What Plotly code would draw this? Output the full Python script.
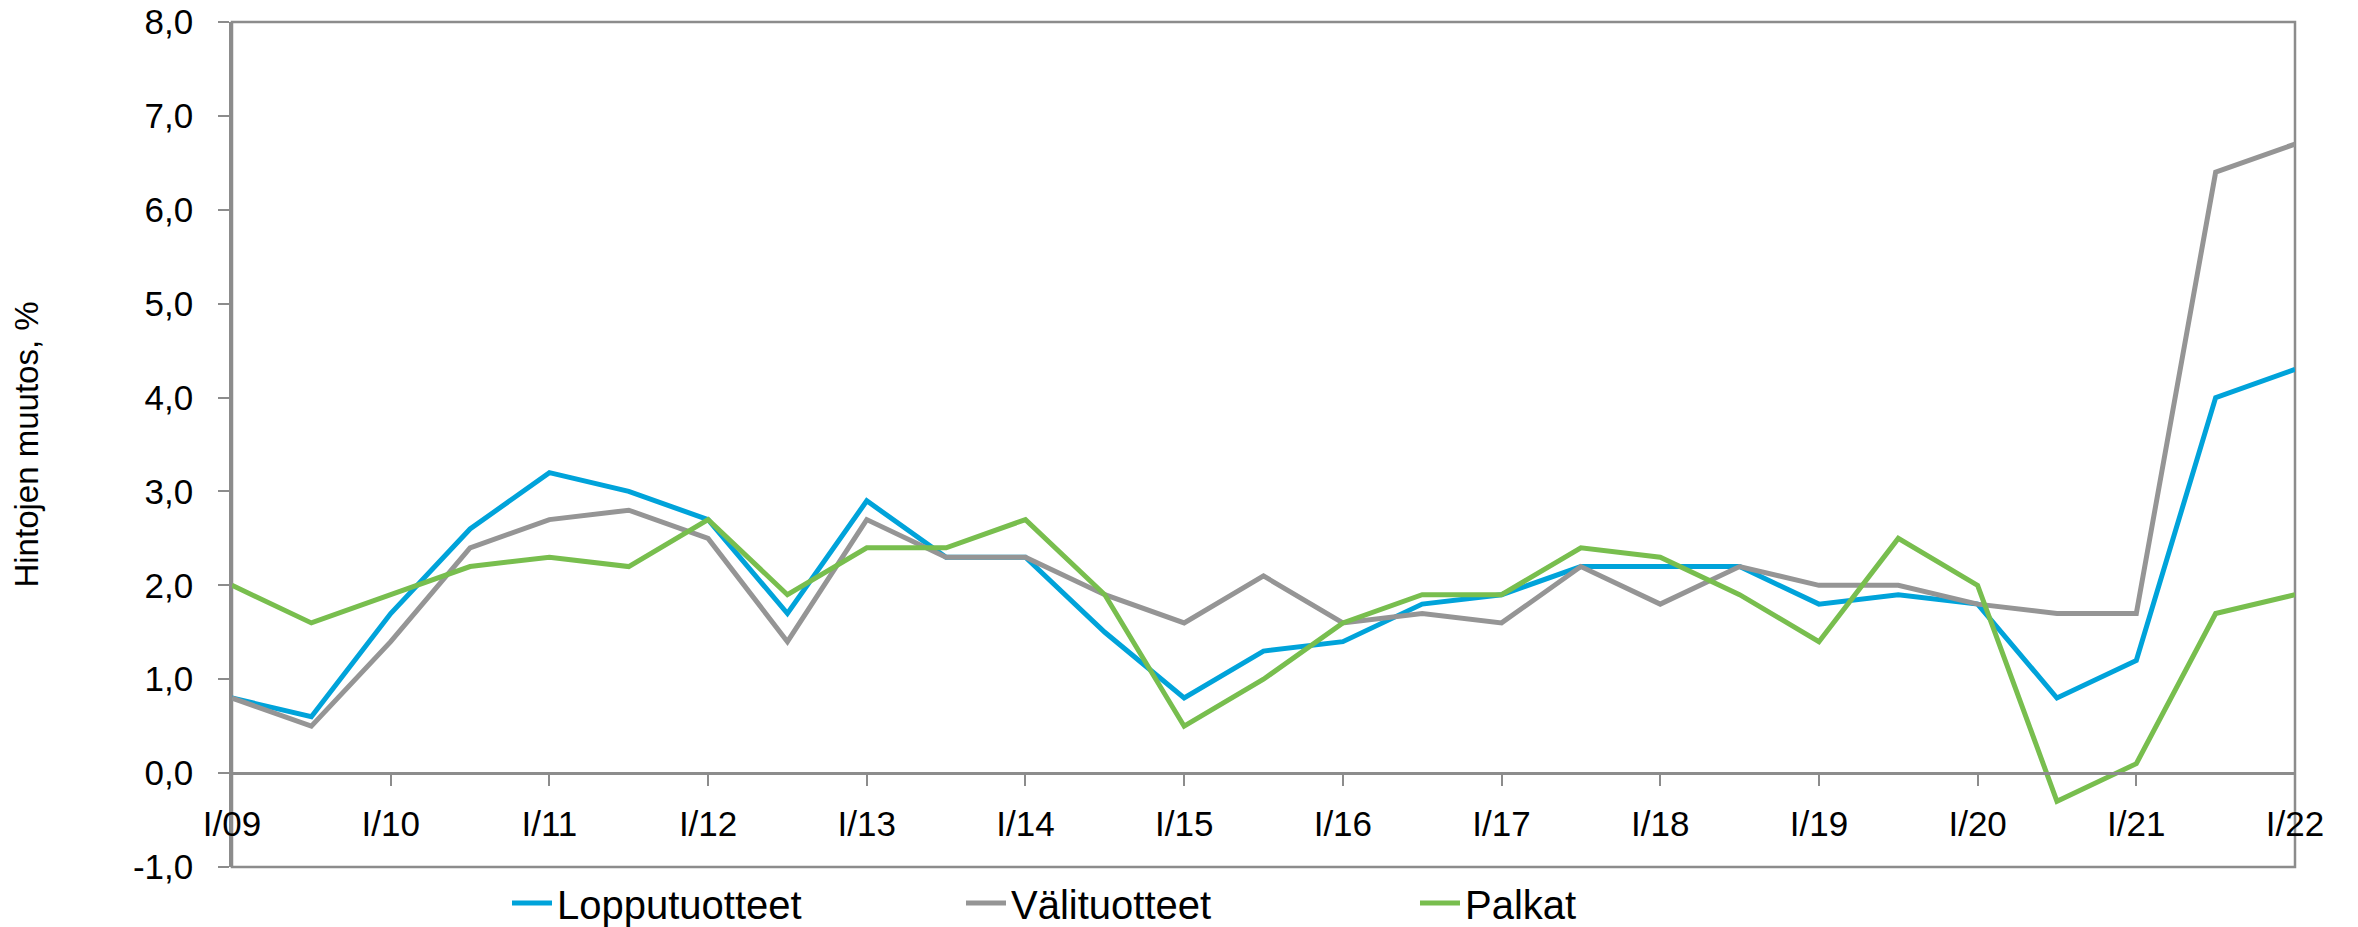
import plotly.graph_objects as go

tick_labels = ["I/09", "I/10", "I/11", "I/12", "I/13", "I/14", "I/15",
               "I/16", "I/17", "I/18", "I/19", "I/20", "I/21", "I/22"]
y_ticks = [-1, 0, 1, 2, 3, 4, 5, 6, 7, 8]
y_tick_labels = ["-1,0", "0,0", "1,0", "2,0", "3,0", "4,0", "5,0", "6,0", "7,0", "8,0"]

# half-year observations, I/09 ... I/22
periods = list(range(27))

lopputuotteet = [0.8, 0.6, 1.7, 2.6, 3.2, 3.0, 2.7, 1.7, 2.9, 2.3, 2.3, 1.5, 0.8, 1.3,
                 1.4, 1.8, 1.9, 2.2, 2.2, 2.2, 1.8, 1.9, 1.8, 0.8, 1.2, 4.0, 4.3]
valituotteet = [0.8, 0.5, 1.4, 2.4, 2.7, 2.8, 2.5, 1.4, 2.7, 2.3, 2.3, 1.9, 1.6, 2.1,
                1.6, 1.7, 1.6, 2.2, 1.8, 2.2, 2.0, 2.0, 1.8, 1.7, 1.7, 6.4, 6.7]
palkat = [2.0, 1.6, 1.9, 2.2, 2.3, 2.2, 2.7, 1.9, 2.4, 2.4, 2.7, 1.9, 0.5, 1.0,
          1.6, 1.9, 1.9, 2.4, 2.3, 1.9, 1.4, 2.5, 2.0, -0.3, 0.1, 1.7, 1.9]

series = [
    ("Lopputuotteet", lopputuotteet, "#00A3DA"),
    ("Välituotteet", valituotteet, "#959595"),
    ("Palkat", palkat, "#78BE4E"),
]

FONT = "Liberation Sans, Arial, sans-serif"
AXIS_COLOR = "#8C8C8C"

fig = go.Figure()
for name, vals, color in series:
    fig.add_trace(go.Scatter(
        x=periods, y=vals, name=name, mode="lines",
        line=dict(color=color, width=5),
    ))

fig.update_layout(
    width=2350, height=919,
    margin=dict(l=224, r=63, t=14, b=60, autoexpand=False),
    paper_bgcolor="white", plot_bgcolor="white",
    font=dict(family=FONT, color="black", size=35),
    showlegend=True,
    legend=dict(
        orientation="h", x=0.1333, xanchor="left",
        yref="container", y=1 - 895 / 919, yanchor="middle",
        font=dict(size=40, family=FONT, color="black"),
        entrywidth=399, entrywidthmode="pixels",
        itemwidth=40, bgcolor="rgba(0,0,0,0)",
    ),
    shapes=[dict(type="rect", xref="paper", yref="paper", x0=0, x1=1, y0=0, y1=1,
                 line=dict(color=AXIS_COLOR, width=2.5), fillcolor="rgba(0,0,0,0)",
                 layer="below")],
)

fig.update_xaxes(
    range=[0, 26],
    tickmode="array",
    tickvals=[2 * i for i in range(len(tick_labels))],
    ticktext=tick_labels,
    anchor="free", position=1 / 9,
    showline=True, linecolor=AXIS_COLOR, linewidth=2.5,
    ticks="outside", ticklen=11, tickwidth=2, tickcolor=AXIS_COLOR,
    ticklabelstandoff=8, ticklabeloverflow="allow",
    showgrid=False, zeroline=False, automargin=False,
    tickfont=dict(size=35, family=FONT, color="black"),
)

fig.update_yaxes(
    range=[-1, 8],
    tickmode="array", tickvals=y_ticks, ticktext=y_tick_labels,
    showline=True, linecolor=AXIS_COLOR, linewidth=2.5,
    ticks="outside", ticklen=11, tickwidth=2, tickcolor=AXIS_COLOR,
    ticklabelstandoff=18, ticklabeloverflow="allow",
    showgrid=False, zeroline=False, automargin=False,
    tickfont=dict(size=35, family=FONT, color="black"),
    title=dict(text="Hintojen muutos, %", standoff=85,
               font=dict(size=33, family=FONT, color="black")),
)

fig.write_html("out.html")
